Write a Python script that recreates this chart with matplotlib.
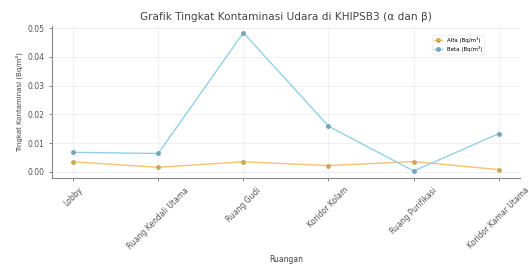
import matplotlib
matplotlib.use('Agg')
import matplotlib.pyplot as plt

ruangan = ['Lobby', 'Ruang Kendali Utama', 'Ruang Gudi', 'Koridor Kolam',
           'Ruang Purifikasi', 'Koridor Kamar Utama']
alfa = [0.0035, 0.0016, 0.0035, 0.0022, 0.0036, 0.0008]
beta = [0.0068, 0.0064, 0.0484, 0.0159, 0.0003, 0.0133]

fig = plt.figure(figsize=(5.29, 2.66), dpi=100)
ax = fig.add_axes([0.098, 0.331, 0.885, 0.572])

ax.plot(ruangan, alfa, color='#f3c46e', linewidth=1, marker='o', markersize=2.5,
        markerfacecolor='#c7ab58', markeredgecolor='#c7ab58', label='Alfa (Bq/m³)')
ax.plot(ruangan, beta, color='#93d0e6', linewidth=1, marker='o', markersize=2.5,
        markerfacecolor='#74a6b9', markeredgecolor='#74a6b9', label='Beta (Bq/m³)')

ax.set_title('Grafik Tingkat Kontaminasi Udara di KHIPSB3 (α dan β)', fontsize=7.6,
             color='#444444', pad=4)
ax.set_xlabel('Ruangan', fontsize=5.5, color='#444444', labelpad=3)
ax.set_ylabel('Tingkat Kontaminasi (Bq/m³)', fontsize=5, color='#444444', labelpad=3)

ax.tick_params(axis='both', labelsize=5.5, colors='#555555', length=2, width=0.5)
plt.setp(ax.get_xticklabels(), rotation=45)

ax.grid(True, color='#eeeeee', linewidth=0.6)
ax.spines['top'].set_visible(False)
ax.spines['right'].set_visible(False)
for s in ['left', 'bottom']:
    ax.spines[s].set_color('#888888')
    ax.spines[s].set_linewidth(0.8)

ax.legend(fontsize=4, loc='upper right', bbox_to_anchor=(0.93, 0.96),
          frameon=True, edgecolor='#eeeeee', handlelength=1.5)

fig.savefig('out.png', dpi=100)
